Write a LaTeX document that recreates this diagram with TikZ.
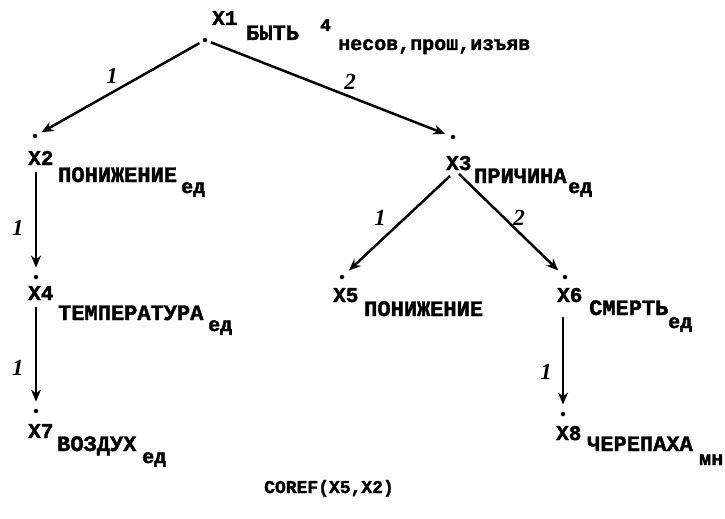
\documentclass[tikz,border=0pt]{standalone}
\usepackage{fontspec}
\setmainfont[BoldFeatures={FakeBold=1.8}]{Liberation Mono}
\newfontfamily\handfont[BoldFeatures={FakeBold=2.2}]{Liberation Serif}
\usetikzlibrary{arrows.meta}
\begin{document}
\begin{tikzpicture}[x=1pt,y=-1pt,
  dot/.style={circle,fill=black,inner sep=0pt,minimum size=4.5pt},
  xlab/.style={anchor=base west,inner sep=0pt,font=\bfseries\fontsize{21}{21}\selectfont},
  word/.style={anchor=base west,inner sep=0pt,font=\bfseries\fontsize{22}{22}\selectfont},
  sub/.style={anchor=base west,inner sep=0pt,font=\bfseries\fontsize{20}{20}\selectfont},
  edge/.style={line width=2.5pt,-{Stealth[length=12pt,width=10pt]}},
  num/.style={inner sep=0pt,font=\handfont\itshape\bfseries\fontsize{23}{23}\selectfont}]
\useasboundingbox (0,0) rectangle (725,519);
% dots
\node[dot] (d1) at (205,40) {};
\node[dot] (d2) at (35,136) {};
\node[dot] (d3) at (453,137) {};
\node[dot] (d4) at (36,277) {};
\node[dot] (d5) at (342,277) {};
\node[dot] (d6) at (565,277) {};
\node[dot] (d7) at (36,411) {};
\node[dot] (d8) at (563,414) {};
% X1
\node[xlab] (x1) at (212,25) {X1};
\node[word] (w1) at (246,40) {БЫТЬ};
\node[sub,font=\bfseries\fontsize{18}{18}\selectfont] (s1a) at (320,31) {4};
\node[sub] (s1) at (338,50) {несов,прош,изъяв};
% X2
\node[xlab] (x2) at (28,165) {X2};
\node[word] (w2) at (58,182) {ПОНИЖЕНИЕ};
\node[sub] (s2) at (181,193) {ед};
% X3
\node[xlab] (x3) at (446,170) {X3};
\node[word] (w3) at (474,183) {ПРИЧИНА};
\node[sub] (s3) at (568,193) {ед};
% X4
\node[xlab] (x4) at (28,300) {X4};
\node[word] (w4) at (58,320) {ТЕМПЕРАТУРА};
\node[sub] (s4) at (208,331) {ед};
% X5
\node[xlab] (x5) at (333,302) {X5};
\node[word] (w5) at (364,316) {ПОНИЖЕНИЕ};
% X6
\node[xlab] (x6) at (557,302) {X6};
\node[word] (w6) at (589,315) {СМЕРТЬ};
\node[sub] (s6) at (668,328) {ед};
% X7
\node[xlab] (x7) at (28,438) {X7};
\node[word] (w7) at (57,451) {ВОЗДУХ};
\node[sub] (s7) at (142,463) {ед};
% X8
\node[xlab] (x8) at (556,440) {X8};
\node[word] (w8) at (587,451) {ЧЕРЕПАХА};
\node[sub] (s8) at (699,465) {мн};
% connectors
\coordinate (a2) at (36,172);
\coordinate (a4) at (36,307);
\coordinate (a6) at (563,317);
\coordinate (a3l) at (450,176);
\coordinate (a3r) at (459,174);
\draw[edge,shorten <=4pt,shorten >=5pt] (d1) -- (d2);
\draw[edge,shorten <=4pt,shorten >=6pt] (d1) -- (d3);
\draw[edge,shorten >=7pt] (a2) -- (d4);
\draw[edge,shorten >=7pt] (a4) -- (d7);
\draw[edge,shorten >=7pt] (a3l) -- (d5);
\draw[edge,shorten >=7pt] (a3r) -- (d6);
\draw[edge,shorten >=7pt] (a6) -- (d8);
% edge labels
\node[num] (n12) at (112,76) {1};
\node[num] (n13) at (350,82) {2};
\node[num] (n24) at (18,228) {1};
\node[num] (n47) at (18,368) {1};
\node[num] (n35) at (380,218) {1};
\node[num] (n36) at (519,218) {2};
\node[num] (n68) at (546,372) {1};
% footer
\node[sub,font=\bfseries\fontsize{18}{18}\selectfont] (coref) at (264,493) {COREF(X5,X2)};
\end{tikzpicture}
\end{document}
